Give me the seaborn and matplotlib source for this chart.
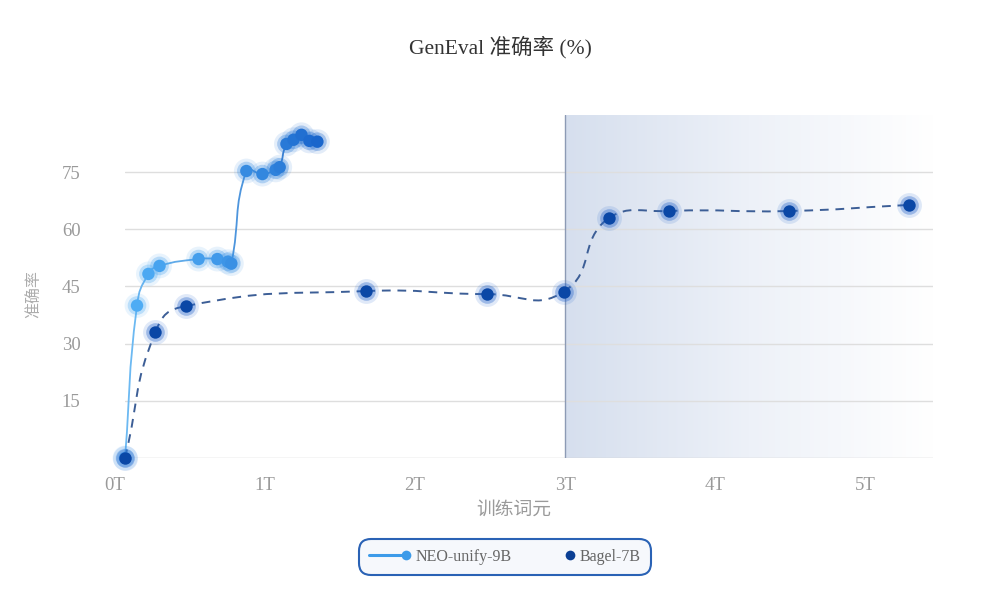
import numpy as np
import matplotlib
matplotlib.use('Agg')
import matplotlib.pyplot as plt
import seaborn as sns
from matplotlib.path import Path
from matplotlib.patches import PathPatch
from matplotlib.lines import Line2D
from matplotlib.legend_handler import HandlerLine2D
from matplotlib.colors import LinearSegmentedColormap

# data
neo_x = [0.07, 0.15, 0.226, 0.30, 0.56, 0.685, 0.755, 0.778, 0.878, 0.985,
         1.073, 1.10, 1.145, 1.192, 1.245, 1.298, 1.351]
neo_y = [0, 40.0, 48.3, 50.4, 52.2, 52.2, 51.5, 51.0, 75.3, 74.5,
         75.6, 76.3, 82.4, 83.5, 84.8, 83.2, 83.0]
bagel_x = [0.07, 0.273, 0.479, 1.677, 2.48, 2.99, 3.29, 3.69, 4.49, 5.29]
bagel_y = [0, 33.1, 39.9, 43.8, 43.0, 43.6, 63.0, 64.8, 64.8, 66.4]

x_ticks = [0, 1, 2, 3, 4, 5]
x_labels = ['0T', '1T', '2T', '3T', '4T', '5T']
y_ticks = [15, 30, 45, 60, 75]
series_names = ['NEO-unify-9B', 'Bagel-7B']

title = 'GenEval 准确率 (%)'
x_title = '训练词元'
y_title = '准确率'

SERIF = ['Liberation Serif', 'Noto Sans CJK SC']
CJK = ['Noto Sans CJK SC', 'DejaVu Sans']


# smoothing like the echarts line series, done in screen space
def smooth_segments(ax, xs, ys, smooth=0.5):
    pts = ax.transData.transform(np.column_stack([xs, ys]))
    lo, hi = pts.min(axis=0), pts.max(axis=0)
    n = len(pts)
    cps = []
    for i in range(n):
        p = pts[i]
        prev = pts[i - 1] if i > 0 else p
        nxt = pts[i + 1] if i < n - 1 else p
        v = (nxt - prev) * smooth
        d0 = np.hypot(*(p - prev))
        d1 = np.hypot(*(nxt - p))
        s = d0 + d1
        if s:
            d0, d1 = d0 / s, d1 / s
        c0 = np.clip(p - v * d0, lo, hi)
        c1 = np.clip(p + v * d1, lo, hi)
        cps.append((c0, c1))
    inv = ax.transData.inverted()
    segs = []
    for i in range(1, n):
        seg = np.array([pts[i - 1], cps[i - 1][1], cps[i][0], pts[i]])
        segs.append(inv.transform(seg))
    return segs


def draw_path(ax, segs, colors, **kw):
    for seg, c in zip(segs, colors):
        path = Path(seg, [Path.MOVETO, Path.CURVE4, Path.CURVE4, Path.CURVE4])
        ax.add_patch(PathPatch(path, fill=False, edgecolor=c, **kw))


class EndMarker(HandlerLine2D):
    # legend icon with the dot at the right end of the line
    def create_artists(self, *args, **kwargs):
        arts = super().create_artists(*args, **kwargs)
        arts[0].set_markevery([2])
        return arts


sns.set_theme(style='white')
plt.rcParams['font.family'] = SERIF

fig = plt.figure(figsize=(10, 6.02), dpi=100)
ax = fig.add_axes([0.125, 0.2392, 0.808, 0.5698])
x_max = 5.45
ax.set_xlim(0.07, x_max)
ax.set_ylim(0, 90)

# shaded region after 3T
grad = np.linspace(0, 1, 256).reshape(1, -1)
shade = LinearSegmentedColormap.from_list('shade', ['#d6dfee', '#edf1f8', '#ffffff'])
ax.imshow(grad, extent=[3, x_max, 0, 90], aspect='auto', cmap=shade,
          zorder=0, interpolation='bicubic')
ax.plot([3, 3], [0, 90], color='#8d9bb5', lw=1, zorder=1)

for t in y_ticks:
    ax.axhline(t, color='#dedede', lw=1, zorder=0.5)
ax.axhline(0, color='#cfcfcf', lw=1, zorder=0.5)

# lines
neo_cmap = LinearSegmentedColormap.from_list('neo', ['#6cb9f2', '#2a6cc6'])
neo_segs = smooth_segments(ax, neo_x, neo_y)
seg_cols = [neo_cmap(i / (len(neo_segs) - 1)) for i in range(len(neo_segs))]
draw_path(ax, neo_segs, seg_cols, lw=1.3, zorder=2, clip_on=False)

bagel_segs = smooth_segments(ax, bagel_x, bagel_y)
draw_path(ax, bagel_segs, ['#3c5e96'] * len(bagel_segs), lw=1.4,
          linestyle=(0, (4.5, 3.5)), zorder=2, clip_on=False)

# points with a soft glow
pt_cmap = LinearSegmentedColormap.from_list('neopt', ['#52b1f7', '#1a66cc'])
neo_hue = np.arange(len(neo_x))
for s, a in [(320, 0.12), (180, 0.3), (80, 1.0)]:
    sns.scatterplot(x=neo_x, y=neo_y, hue=neo_hue, palette=pt_cmap, s=s, alpha=a,
                    linewidth=0, legend=False, ax=ax, zorder=3, clip_on=False)
for s, c, a in [(320, '#2f6fd0', 0.15), (180, '#2060c8', 0.35), (80, '#0a47a6', 1.0)]:
    sns.scatterplot(x=bagel_x, y=bagel_y, color=c, s=s, alpha=a, linewidth=0,
                    legend=False, ax=ax, zorder=4, clip_on=False)

# axes styling
sns.despine(ax=ax, left=True, bottom=True)
ax.set_xticks(x_ticks[1:])
ax.set_xticklabels(x_labels[1:])
# 0T sits just left of where the axis starts
ax.text(x_ticks[0], -19 / 343, x_labels[0], transform=ax.get_xaxis_transform(),
        ha='center', va='top', fontsize=13.5, color='#9a9a9a', family=SERIF,
        clip_on=False)
ax.set_yticks(y_ticks)
ax.set_yticklabels([str(v) for v in y_ticks])
ax.tick_params(axis='x', length=0, pad=13.5, labelsize=13.5, labelcolor='#9a9a9a')
ax.tick_params(axis='y', length=0, pad=32, labelsize=13.5, labelcolor='#9a9a9a')
ax.grid(False)

fig.text(0.500, 1 - 47 / 602, title, ha='center', va='center', fontsize=15.5,
         color='#333333', family=SERIF)
fig.text(0.514, 1 - 509 / 602, x_title, ha='center', va='center', fontsize=13.5,
         color='#9a9a9a', family=CJK)
fig.text(0.035, 1 - 294 / 602, y_title, ha='center', va='center', rotation=90,
         fontsize=11.5, color='#adadad', family=CJK)

handles = [
    Line2D([], [], color='#3d9be9', lw=2.2, marker='o', markersize=7,
           markerfacecolor='#3d9be9', markeredgewidth=0),
    Line2D([], [], color='none', lw=0, marker='o', markersize=7,
           markerfacecolor='#0b3f94', markeredgewidth=0),
]
leg = fig.legend(handles, series_names, loc='center', bbox_to_anchor=(0.505, 1 - 557 / 602),
                 ncol=2, frameon=True, handlelength=2.3, columnspacing=1.3,
                 handletextpad=0.65, borderpad=0.3,
                 handler_map={Line2D: EndMarker()},
                 prop={'family': SERIF, 'size': 11.5})
frame = leg.get_frame()
frame.set_edgecolor('#2a62b5')
frame.set_linewidth(1.5)
frame.set_facecolor('#f6f8fc')
frame.set_alpha(1)
frame.set_boxstyle('round,pad=0.3,rounding_size=0.7')
for txt in leg.get_texts():
    txt.set_color('#666666')

fig.savefig('out.png', dpi=100, facecolor='white')
